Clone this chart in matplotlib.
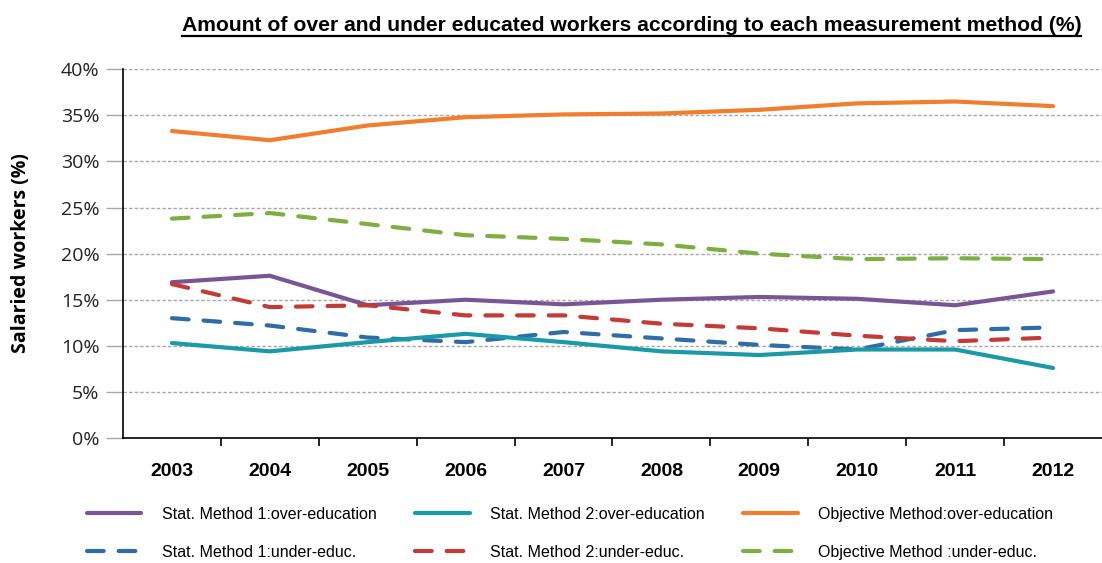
import matplotlib
matplotlib.use("Agg")
import matplotlib.pyplot as plt
from matplotlib.lines import Line2D
from matplotlib.ticker import FuncFormatter, MultipleLocator

# Share of salaried workers (%) by year and method
years = ["2003", "2004", "2005", "2006", "2007", "2008", "2009", "2010", "2011", "2012"]

stat1_over = [16.9, 17.6, 14.4, 15.0, 14.5, 15.0, 15.3, 15.1, 14.4, 15.9]
stat2_over = [10.3, 9.4, 10.4, 11.3, 10.4, 9.4, 9.0, 9.6, 9.6, 7.6]
objective_over = [33.3, 32.3, 33.9, 34.8, 35.1, 35.2, 35.6, 36.3, 36.5, 36.0]
stat1_under = [13.0, 12.2, 10.9, 10.4, 11.5, 10.8, 10.1, 9.6, 11.7, 12.0]
stat2_under = [16.7, 14.2, 14.4, 13.3, 13.3, 12.4, 11.9, 11.1, 10.5, 10.9]
objective_under = [23.8, 24.4, 23.2, 22.0, 21.6, 21.0, 20.0, 19.4, 19.5, 19.4]

series = [
    ("Stat. Method 1:over-education", stat1_over, "#7A5595", "-"),
    ("Stat. Method 1:under-educ.", stat1_under, "#2E6DA8", "--"),
    ("Stat. Method 2:over-education", stat2_over, "#1A9AA6", "-"),
    ("Stat. Method 2:under-educ.", stat2_under, "#C23B36", "--"),
    ("Objective Method:over-education", objective_over, "#F07E2E", "-"),
    ("Objective Method :under-educ.", objective_under, "#7DAE42", "--"),
]

fig = plt.figure(figsize=(11.02, 5.63), dpi=100)
ax = fig.add_axes([0.1116, 0.222, 0.8884, 0.655])

x = list(range(len(years)))
handles = []
for label, vals, color, ls in series:
    if ls == "--":
        (ln,) = ax.plot(x, vals, color=color, lw=3.0, ls=(0, (4.0, 3.6)),
                        dash_capstyle="round", label=label)
    else:
        (ln,) = ax.plot(x, vals, color=color, lw=3.0, solid_capstyle="round",
                        label=label)
    handles.append(ln)

ax.set_xlim(-0.5, len(years) - 0.5)
ax.set_ylim(0, 40)
ax.yaxis.set_major_locator(MultipleLocator(5))
ax.yaxis.set_major_formatter(FuncFormatter(lambda v, p: f"{v:.0f}%"))
ax.grid(axis="y", color="#A8A8A8", ls=(0, (2.5, 1.5)), lw=1.0)
ax.set_axisbelow(True)

ax.set_xticks(x)
ax.set_xticklabels(years, fontsize=14, fontweight="bold", family="Liberation Sans")
ax.set_xticks([i + 0.5 for i in x[:-1]], minor=True)
ax.tick_params(axis="x", which="major", length=0, pad=18)
ax.tick_params(axis="x", which="minor", length=6, width=1.2, color="black")
ax.tick_params(axis="y", length=12, width=1.0, color="#A8A8A8", labelsize=14, pad=5)
for t in ax.get_yticklabels():
    t.set_family("Open Sans")
    t.set_color("#222222")

for side in ("top", "right"):
    ax.spines[side].set_visible(False)
ax.spines["left"].set_linewidth(1.2)
ax.spines["bottom"].set_linewidth(1.2)

fig.text(0.019, 0.55, "Salaried workers (%)", rotation=90, ha="center", va="center",
         fontsize=14, fontweight="bold", family="Open Sans")

title = fig.text(0.573, 0.955, "Amount of over and under educated workers according to each measurement method (%)",
                 ha="center", va="center", fontsize=15.2, fontweight="bold",
                 family="Liberation Sans")
fig.canvas.draw()
bb = title.get_window_extent().transformed(fig.transFigure.inverted())
fig.add_artist(Line2D([bb.x0, bb.x1], [bb.y0 - 0.002, bb.y0 - 0.002],
                      transform=fig.transFigure, color="black", lw=1.6))

fig.legend(handles=handles, loc="center left", bbox_to_anchor=(0.066, 0.053), ncol=3,
           frameon=False, prop={"family": "Liberation Sans", "size": 11.5},
           handlelength=3.4, handletextpad=1.3, columnspacing=2.4, labelspacing=1.45)

fig.savefig("out.png", dpi=100)
